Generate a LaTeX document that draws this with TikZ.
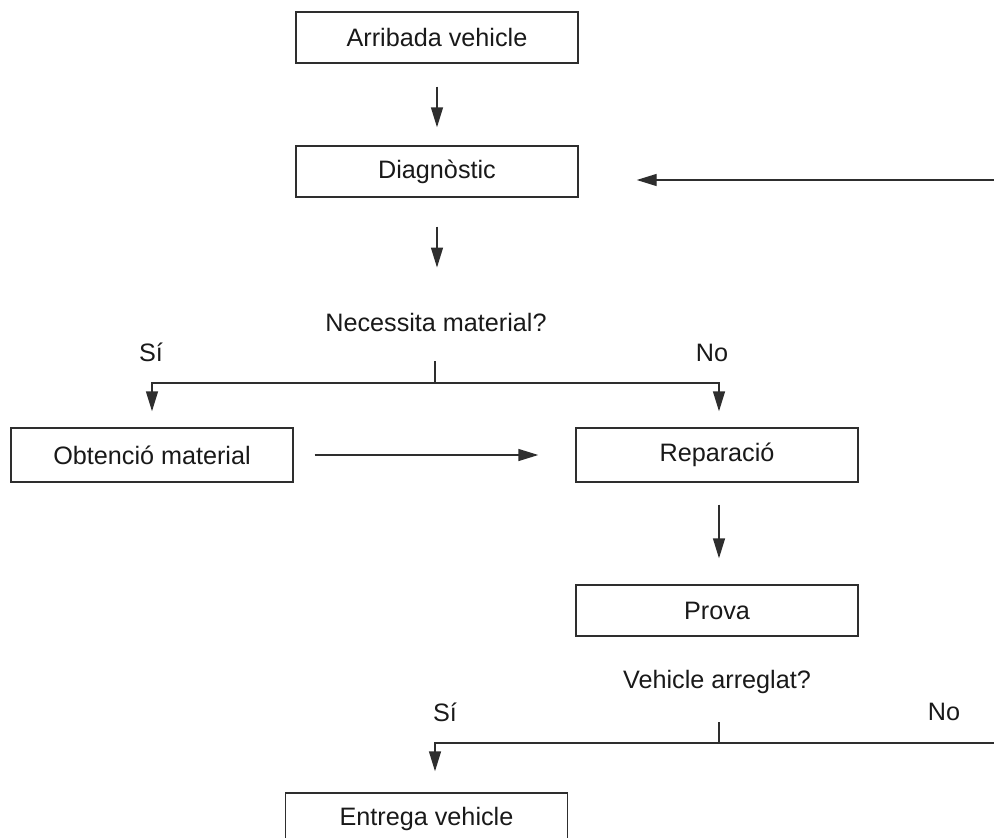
\documentclass[tikz,border=0pt]{standalone}
\usepackage{fontspec}
\setmainfont{Liberation Sans}
\usetikzlibrary{arrows.meta}
\definecolor{ink}{gray}{0.18}
\begin{document}
\begin{tikzpicture}[x=1pt,y=-1pt,
  box/.style={draw=ink, line width=1.4pt, minimum width=282pt, minimum height=51pt, inner sep=0pt, font=\fontsize{25.2}{29}\selectfont, text=black!90},
  lbl/.style={font=\fontsize{25.2}{29}\selectfont, text=black!90, inner sep=0pt, anchor=base},
  arr/.style={draw=ink, line width=1.4pt, -{Triangle[length=20pt,width=12pt]}},
  ln/.style={draw=ink, line width=1.4pt}]
\useasboundingbox (0,0) rectangle (994,838);
\node[box] (a) at (437,37.5) {Arribada vehicle};
\node[box] (d) at (437,171.5) {Diagnòstic};
\node[lbl] (q1) at (436,331) {Necessita material?};
\node[lbl] (s1) at (151,361) {Sí};
\node[lbl] (n1) at (712,361) {No};
\node[box, minimum height=54pt] (o) at (152,455) {Obtenció material};
\node[box, minimum height=54pt] (r) at (717,455) {Reparació};
\node[box] (p) at (717,610.5) {Prova};
\node[lbl] (q2) at (717,688) {Vehicle arreglat?};
\node[lbl] (s2) at (445,721) {Sí};
\node[lbl] (n2) at (944,720) {No};
\node[box] (e) at (426.5,818.5) {Entrega vehicle};
\coordinate (fb) at (994,180);
\coordinate (j1) at (435,383);
\coordinate (j2) at (719,743);
\coordinate (rb) at (994,743);
\draw[arr, shorten <=23pt, shorten >=18pt] (a.south) -- (d.north);
\draw[arr, shorten <=29pt, shorten >=45pt] (d.south) -- (d.south |- q1.north);
\draw[arr, shorten >=58pt] (fb) -- (d.east |- fb);
\draw[ln] (j1) -- ++(0,-22);
\draw[arr, shorten >=16pt] (j1) -| (o.north);
\draw[arr, shorten >=16pt] ([xshift=-2pt]j1) -| ([xshift=2pt]r.north);
\draw[arr, shorten <=21pt, shorten >=37pt] (o.east) -- (r.west);
\draw[arr, shorten <=22pt, shorten >=26pt] ([xshift=2pt]r.south) -- ([xshift=2pt]p.north);
\draw[ln] (j2) -- ++(0,-21);
\draw[ln] (j2) -- (rb);
\draw[arr, shorten >=21pt] (j2) -| ([xshift=8.5pt]e.north);
\end{tikzpicture}
\end{document}
